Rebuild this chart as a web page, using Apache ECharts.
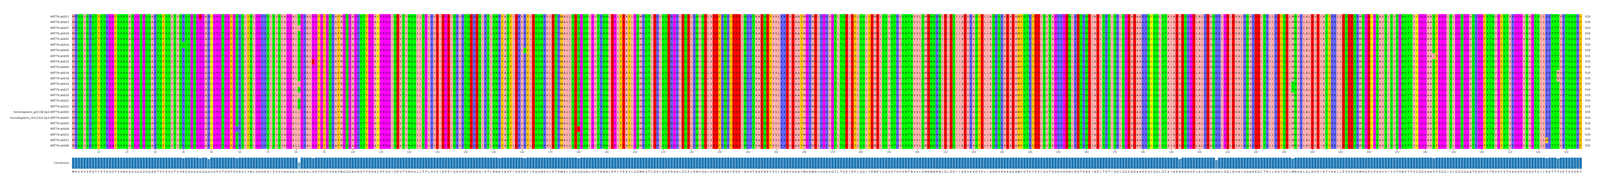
<!DOCTYPE html>
<html><head><meta charset="utf-8">
<script src="https://cdn.jsdelivr.net/npm/echarts@6/dist/echarts.min.js"></script>
<style>html,body{margin:0;padding:0;background:#fff;overflow:hidden}#c{width:100vw;height:100vh}</style>
</head><body><div id="c"></div>
<script>
const names = ["KRT79:a0011","KRT79:a0003","KRT79:a0007","KRT79:a0019","KRT79:a0001","KRT79:a0010","KRT79:a0005","KRT79:a0009","KRT79:a0015","KRT79:a0004","KRT79:a0016","KRT79:a0018","KRT79:a0014","KRT79:a0017","KRT79:a0020","KRT79:a0021","KRT79:a0022","homoSapiens_grch38.hp1:KRT79:a0002","homoSapiens_chm13v2.hp1:KRT79:a0002","KRT79:a0002","KRT79:a0008","KRT79:a0012","KRT79:a0013","KRT79:a0006"];
const lengths = names.map(() => 535);
const consensus = ("MRSSVSRQTYSTKGGFSSNSASGGSGSQARTSFSSVTVSRSSGSGGGAHCGPGTGGFGSRSLYNLGGHKS" +
 "ISVSVAGGALSGRALGGFGFGSRAFMGQGAGRQTFGPACPPGGIQEVTVNQSLLTPLHVEIDPEIQRVRT" +
 "QEREQIKTLNNKFASFIDKVRFLEQQNKVLETKWALLQEQGQNLGVTRNNLEPLFEAYLGSMRSTLDRLQ" +
 "SERGRLDSELRNVQDLVEDFKNKYEDEINKHTAAENEFVVLKKDVDAAYMGRMDLHGKVGTLTQEIDFLQ" +
 "QLYEMELSQVQTHVSNTNVVLSMDNNRNLDLDSIIAEVKAQYELIAQRSRAEAEAWYQTKYEELQVTAGK" +
 "HGDNLRDTKNEIAELTRTIQRLQGEADAAKKQCQQLQTAIAEAEQRGELALKDAQKKLGDLDVALHQAKE" +
 "DLTRLLRDYQELMNVKLALDVEIATYRKLLESEESRMSGECPSAVSISVTGNSTTVCGGGAASFGGGISL" +
 "GGSGGATKGGFSTNVGYSTVKGGPVSAGTSILRKTTTVKTSSQRY").split('');
// [row, column (1-based), residue]
const variants = [
 [0,46,'D'],[5,40,'Q'],[14,49,'R'],[15,49,'R'],[16,49,'R'],[20,59,'R'],
 [2,81,'L'],[12,81,'L'],[14,81,'L'],[17,81,'L'],[18,81,'L'],[19,81,'L'],[20,81,'L'],[21,81,'L'],[22,81,'L'],[23,81,'L'],
 [8,86,'E'],[3,152,'R'],[6,161,'Q'],[20,180,'E'],
 [0,393,'V'],[1,393,'V'],[2,393,'V'],
 [9,406,'R'],[11,406,'R'],[14,406,'R'],[16,406,'R'],[23,406,'R'],
 [12,433,'T'],[13,433,'T'],[7,483,'I'],[22,523,'W'],[10,527,'M'],[11,527,'M']
];
const positions = consensus.map((_, i) => String(i + 1));

const colorOf = r => {
  if ('AVLIM'.includes(r)) return '#ffafaf';
  if ('FYW'.includes(r)) return '#ffc800';
  if ('STNQ'.includes(r)) return '#00ff00';
  if ('RKH'.includes(r)) return '#6464ff';
  if ('GP'.includes(r)) return '#ff00ff';
  if ('DE'.includes(r)) return '#ff0000';
  if (r === 'C') return '#ffff00';
  return '#ffffff';
};

const rows = names.map(() => consensus.slice());
variants.forEach(([r, c, a]) => { rows[r][c - 1] = a; });
const cells = [];
const cellLetters = [];
rows.forEach((seq, r) => seq.forEach((a, c) => { cells.push([c, r]); cellLetters.push(a); }));
const conservation = consensus.map((a, c) => rows.filter(s => s[c] === a).length / rows.length);

const el = document.getElementById('c');
const k = (el.clientWidth || window.innerWidth) / 5713;
const ky = (el.clientHeight || window.innerHeight) / 481;
const tickFn = i => (i + 1) % 10 === 0;
const chart = echarts.init(el, null, { devicePixelRatio: 1 });
const fs = 10 * k;
chart.setOption({
  animation: false,
  textStyle: { fontFamily: 'DejaVu Sans' },
  grid: [
    { left: 256.6 * k, right: 64.3 * k, top: 36 * ky, height: 344.7 * ky },
    { left: 256.6 * k, right: 64.3 * k, top: 403 * ky, height: 29 * ky }
  ],
  xAxis: [
    { type: 'category', gridIndex: 0, data: positions, position: 'bottom',
      axisLine: { show: false }, splitLine: { show: false },
      axisTick: { show: true, alignWithLabel: true, interval: tickFn, length: 4 * ky, lineStyle: { color: '#333' } },
      axisLabel: { interval: tickFn, fontSize: 8 * k, color: '#333', margin: 6 * ky } },
    { type: 'category', gridIndex: 1, data: positions,
      axisLine: { show: false }, axisTick: { show: false },
      axisLabel: { interval: 0, fontSize: fs, color: '#222', margin: 5 * ky, formatter: (v, i) => consensus[i] } }
  ],
  yAxis: [
    { type: 'category', gridIndex: 0, data: names, inverse: true,
      axisLine: { show: false }, axisTick: { show: false },
      axisLabel: { fontSize: fs, color: '#222', margin: 10 * k } },
    { type: 'category', gridIndex: 0, data: names.slice(), inverse: true, position: 'right',
      axisLine: { show: false }, axisTick: { show: false },
      axisLabel: { fontSize: fs, color: '#222', margin: 11 * k, formatter: (v, i) => String(lengths[i]) } },
    { type: 'value', gridIndex: 1, min: 0, max: 1, show: true,
      axisLine: { show: false }, axisTick: { show: false }, axisLabel: { show: false }, splitLine: { show: false },
      name: 'Consensus', nameLocation: 'middle', nameRotate: 0, nameGap: 10 * k,
      nameTextStyle: { fontSize: fs, color: '#222', align: 'right' } }
  ],
  series: [
    { type: 'custom', xAxisIndex: 0, yAxisIndex: 0, data: cells, progressive: 0, silent: true,
      renderItem: (params, api) => {
        const p = api.coord([api.value(0), api.value(1)]);
        const s = api.size([1, 1]);
        const a = cellLetters[params.dataIndex];
        return { type: 'group', children: [
          { type: 'rect', shape: { x: p[0] - s[0] / 2, y: p[1] - s[1] / 2, width: s[0] + 0.3, height: s[1] + 0.3 },
            style: { fill: colorOf(a) } },
          { type: 'text', x: p[0], y: p[1],
            style: { text: a, fill: '#111', fontSize: fs, fontFamily: 'DejaVu Sans', align: 'center', verticalAlign: 'middle' } }
        ] };
      } },
    { type: 'bar', xAxisIndex: 1, yAxisIndex: 2, barCategoryGap: '0%', silent: true,
      data: conservation.map(v => ({ value: v, itemStyle: { opacity: v } })),
      itemStyle: { color: '#1f77b4', borderColor: '#d6e4f0', borderWidth: 0.6 * k } }
  ]
});
</script></body></html>
